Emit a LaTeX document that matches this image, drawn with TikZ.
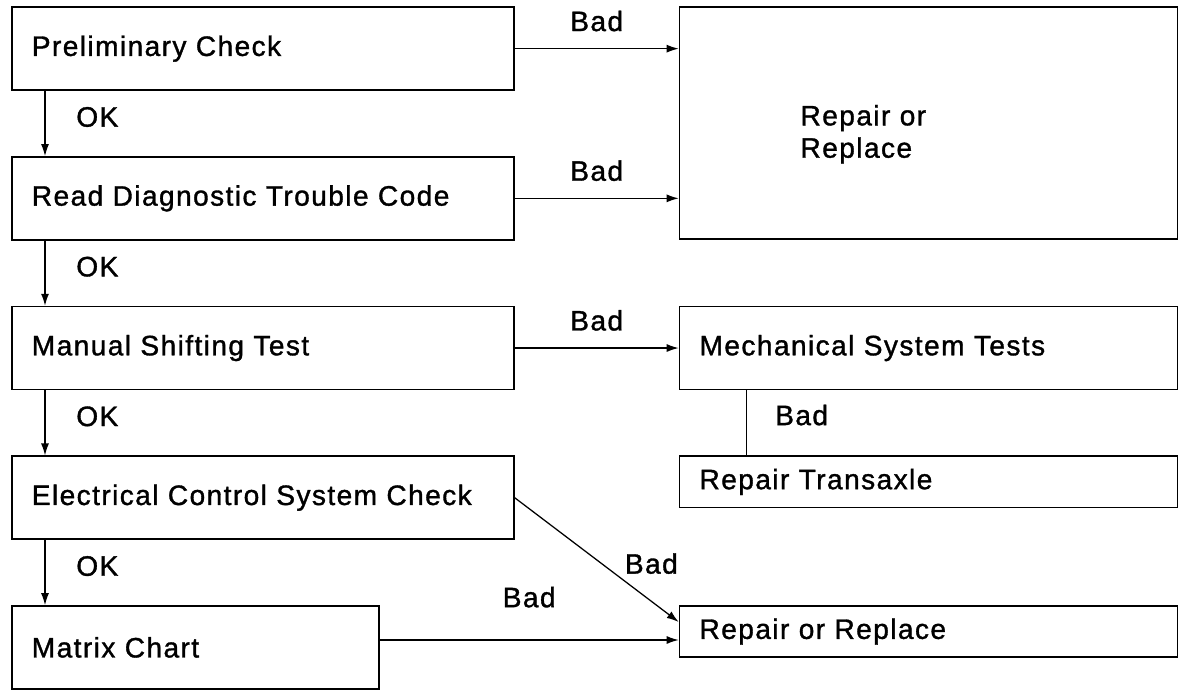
\documentclass[tikz,border=0pt]{standalone}
\usepackage{fontspec}
\setmainfont{Liberation Sans}[LetterSpace=5, FakeBold=1.2]
\usepackage{tikz}
\usetikzlibrary{positioning,arrows.meta}
\newcommand{\chartfont}{\fontsize{20}{23}\selectfont}

\begin{document}
\begin{tikzpicture}[
  node distance=1.63cm and 4.1cm,
  box/.style={draw, line width=1.2pt, minimum height=2.07cm, inner xsep=0.5cm,
              text width=11.55cm, align=left, font=\chartfont},
  rbox/.style={box, text width=11.45cm},
  thin box/.style={rbox, minimum height=1.28cm},
  big box/.style={box, inner xsep=3.025cm, text width=6.4cm, minimum height=5.8cm, text height=1.06cm},
  arr/.style={-{Latex[length=3mm,width=2mm]}, line width=0.9pt},
  lab/.style={font=\chartfont}
]
\useasboundingbox (0,0) rectangle (30,-17.45);

% left column
\node[box, anchor=north west] (prelim) at (0.275,-0.16) {Preliminary Check};
\node[box, below=of prelim]  (readdtc) {Read Diagnostic Trouble Code};
\node[box, below=of readdtc] (manual)  {Manual Shifting Test};
\node[box, below=of manual]  (elec)    {Electrical Control System Check};
\node[box, text width=8.175cm, below=of elec.south west, anchor=north west] (matrix) {Matrix Chart};

% right column
\node[big box, right=of prelim.north east, anchor=north west] (repair) {Repair or\\Replace};
\node[rbox, right=of manual]        (mech)      {Mechanical System Tests};
\node[thin box, below=of mech]      (transaxle) {Repair Transaxle};
\node[thin box, below=2.42cm of transaxle] (replace) {Repair or Replace};

% OK path
\draw[arr] ([xshift=0.85cm]prelim.south west) -- node[lab, pos=0.4, right=0.65cm]{OK} ([xshift=0.85cm]readdtc.north west);
\draw[arr] ([xshift=0.85cm]readdtc.south west) -- node[lab, pos=0.4, right=0.65cm]{OK} ([xshift=0.85cm]manual.north west);
\draw[arr] ([xshift=0.85cm]manual.south west) -- node[lab, pos=0.4, right=0.65cm]{OK} ([xshift=0.85cm]elec.north west);
\draw[arr] ([xshift=0.85cm]elec.south west) -- node[lab, pos=0.4, right=0.65cm]{OK} ([xshift=0.85cm]matrix.north west);

% Bad path
\draw[arr] (prelim.east) -- node[lab, above=0.3cm]{Bad} (prelim.east -| repair.west);
\draw[arr] (readdtc.east) -- node[lab, above=0.3cm]{Bad} (readdtc.east -| repair.west);
\draw[arr] (manual) -- node[lab, above=0.3cm]{Bad} (mech);
\draw[line width=0.9pt] ([xshift=1.7cm]mech.south west) -- node[lab, pos=0.38, right=0.58cm]{Bad} ([xshift=1.7cm]transaxle.north west);
\draw[arr] (elec.east) -- node[lab, pos=0.53, right=0.45cm]{Bad} ([yshift=0.24cm]replace.west);
\coordinate (mxin) at ([yshift=-0.21cm]replace.west);
\draw[arr] (matrix.east |- mxin) -- node[lab, above=0.68cm]{Bad} (mxin);

\end{tikzpicture}
\end{document}
